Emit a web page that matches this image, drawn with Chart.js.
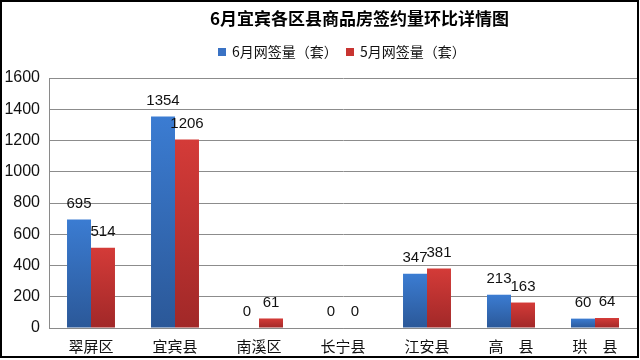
<!DOCTYPE html>
<html><head><meta charset="utf-8">
<script src="https://cdn.jsdelivr.net/npm/chart.js@4.4.0/dist/chart.umd.min.js"></script>
<style>html,body{margin:0;padding:0;background:#fff;}#wrap{width:640px;height:360px;}</style>
</head><body><div id="wrap"><canvas id="c" width="640" height="360"></canvas></div>
<script>
const titleText = '6月宜宾各区县商品房签约量环比详情图';
const categories = ['翠屏区','宜宾县','南溪区','长宁县','江安县','高　县','珙　县'];
const seriesNames = ['6月网签量（套）','5月网签量（套）'];
const juneValues = [695,1354,0,0,347,213,60];
const mayValues = [514,1206,61,0,381,163,64];
const yTicks = [0,200,400,600,800,1000,1200,1400,1600];

const NUM = '"Liberation Sans", Arial, "Noto Sans CJK SC", sans-serif';
const CJK = '"Noto Sans CJK SC", "Liberation Sans", sans-serif';

function barGrad(ctx, top, bot){
  const c = ctx.chart;
  if(!c.chartArea || !c.scales.y) return top;
  const v = ctx.raw || 0;
  const y0 = c.scales.y.getPixelForValue(v);
  const y1 = c.scales.y.getPixelForValue(0);
  if (!isFinite(y0) || !isFinite(y1) || y1 - y0 < 1) return top;
  const g = c.ctx.createLinearGradient(0, y0, 0, y1);
  g.addColorStop(0, top);
  g.addColorStop(1, bot);
  return g;
}

const deco = {
  id:'deco',
  afterDatasetsDraw(chart){
    const ctx = chart.ctx;
    ctx.save();
    ctx.fillStyle = '#111';
    ctx.font = '15px ' + NUM;
    ctx.textAlign = 'center';
    ctx.textBaseline = 'middle';
    chart.data.datasets.forEach((ds, i) => {
      const meta = chart.getDatasetMeta(i);
      meta.data.forEach((el, j) => {
        ctx.fillText(String(ds.data[j]), el.x, el.y - 16);
      });
    });
    ctx.restore();
  },
  afterDraw(chart){
    const ctx = chart.ctx;
    ctx.save();
    ctx.fillStyle = '#000';
    ctx.font = 'bold 17px ' + CJK;
    ctx.textAlign = 'left';
    ctx.textBaseline = 'middle';
    ctx.fillText(titleText, 210, 19);
    ctx.font = '14px ' + CJK;
    const cols = ['#3a72c4','#c83431'];
    const lx = [218, 346];
    seriesNames.forEach((n, i) => {
      ctx.fillStyle = cols[i];
      ctx.fillRect(lx[i], 48, 8, 8);
      ctx.fillStyle = '#111';
      ctx.fillText(n, lx[i] + 14, 52);
    });
    ctx.strokeStyle = '#000';
    ctx.lineWidth = 2;
    ctx.strokeRect(1, 1, 637, 356);
    ctx.restore();
  }
};

new Chart(document.getElementById('c'), {
  type: 'bar',
  data: {
    labels: categories,
    datasets: [
      { label: seriesNames[0], data: juneValues,
        backgroundColor: c => barGrad(c, '#3b7cd2', '#2b5898'), borderWidth: 0 },
      { label: seriesNames[1], data: mayValues,
        backgroundColor: c => barGrad(c, '#d43b38', '#a12828'), borderWidth: 0 }
    ]
  },
  plugins: [deco],
  options: {
    responsive: false,
    animation: false,
    devicePixelRatio: 1,
    layout: { padding: { left: 0, right: 3, top: 78, bottom: 0 } },
    datasets: { bar: { categoryPercentage: 0.571, barPercentage: 1.0 } },
    plugins: { legend: { display: false }, title: { display: false }, tooltip: { enabled: false } },
    scales: {
      x: {
        grid: { display: false, drawTicks: false },
        border: { display: true, color: '#8a8a8a', width: 1 },
        ticks: { color: '#111', font: { family: CJK, size: 15 }, padding: 9, maxRotation: 0, autoSkip: false },
        afterFit: s => { s.height = 32; }
      },
      y: {
        min: 0, max: 1600,
        afterBuildTicks: s => { s.ticks = yTicks.map(v => ({ value: v })); },
        grid: { color: '#8c8c8c', lineWidth: 1, drawTicks: false },
        border: { display: true, color: '#8a8a8a', width: 1 },
        ticks: { color: '#111', font: { family: NUM, size: 16 }, padding: 9, callback: v => String(v) },
        afterFit: s => { s.width = 49; }
      }
    }
  }
});
</script>
</body></html>
